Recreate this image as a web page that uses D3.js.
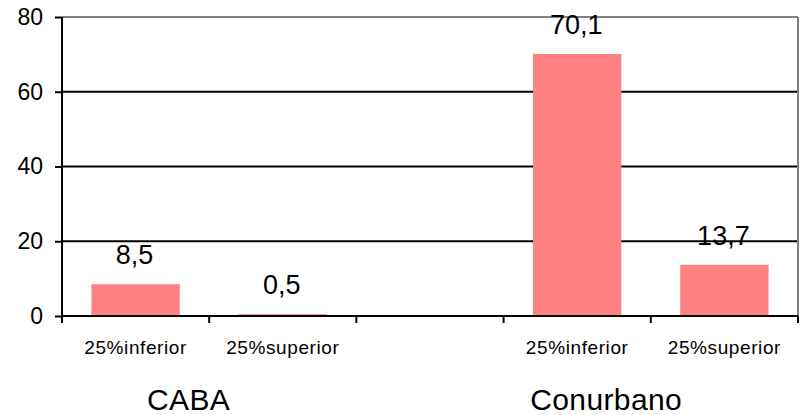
<!DOCTYPE html>
<html>
<head>
<meta charset="utf-8">
<script src="https://cdn.jsdelivr.net/npm/d3@7"></script>
<style>
  html, body { margin: 0; padding: 0; background: #fff; }
  svg { display: block; font-family: Arial, "Liberation Sans", sans-serif; }
</style>
</head>
<body>
<svg id="chart" width="800" height="415"></svg>
<script>
// ---- data ----
const slots = ["CABA|inf", "CABA|sup", "gap", "Conurbano|inf", "Conurbano|sup"];
const subLabels = ["25%inferior", "25%superior", "", "25%inferior", "25%superior"];
const values = [8.5, 0.5, null, 70.1, 13.7];
const valueLabels = ["8,5", "0,5", "", "70,1", "13,7"];
const groups = ["CABA", "Conurbano"];
const yTicks = [0, 20, 40, 60, 80];

// ---- layout ----
const svg = d3.select("#chart");
const pL = 62, pR = 798, pT = 17, pB = 316;

const x = d3.scaleBand().domain(slots).range([pL, pR])
  .paddingInner(0.4).paddingOuter(0.2);
const y = d3.scaleLinear().domain([0, 80]).range([pB, pT]);

// gridlines
svg.append("g").selectAll("line").data(yTicks.filter(t => t > 0))
  .join("line")
  .attr("x1", pL).attr("x2", pR)
  .attr("y1", d => y(d)).attr("y2", d => y(d))
  .attr("stroke", d => d === 80 ? "#808080" : "#000")
  .attr("stroke-width", 2);

// right border
svg.append("line")
  .attr("x1", pR).attr("x2", pR)
  .attr("y1", y(80)).attr("y2", y(0))
  .attr("stroke", "#808080").attr("stroke-width", 2);

// bars
const data = slots.map((s, i) => ({ s, v: values[i], lab: valueLabels[i], sub: subLabels[i] }));
svg.append("g").selectAll("rect").data(data.filter(d => d.v !== null))
  .join("rect")
  .attr("x", d => x(d.s))
  .attr("width", x.bandwidth())
  .attr("y", d => y(d.v))
  .attr("height", d => y(0) - y(d.v))
  .attr("fill", "#FF8080");

// value labels
svg.append("g").selectAll("text").data(data.filter(d => d.v !== null))
  .join("text")
  .attr("x", d => x(d.s) + x.bandwidth() / 2 - 1)
  .attr("y", d => y(d.v) - 20)
  .attr("text-anchor", "middle")
  .attr("font-size", 27)
  .attr("fill", "#000")
  .text(d => d.lab);

// y axis
const yAxis = d3.axisLeft(y).tickValues(yTicks).tickSize(7).tickPadding(12)
  .tickFormat(d3.format("d"));
const gy = svg.append("g").attr("transform", `translate(${pL},0)`).call(yAxis);
gy.select(".domain").attr("stroke", "#000").attr("stroke-width", 2)
  .attr("d", `M0,${pT}V${pB}`);
gy.selectAll(".tick line").attr("stroke", "#000").attr("stroke-width", 2);
gy.selectAll(".tick text").attr("font-size", 23).attr("fill", "#000")
  .attr("font-family", 'Arial, "Liberation Sans", sans-serif');

// x axis line
svg.append("line")
  .attr("x1", pL).attr("x2", pR)
  .attr("y1", pB).attr("y2", pB)
  .attr("stroke", "#000").attr("stroke-width", 2);

// x ticks at slot boundaries
const step = x.step();
const boundaries = d3.range(slots.length + 1).map(i => (i === 0 ? pL : (i === slots.length ? pR : x(slots[i]) - x.paddingInner() * step / 2)));
svg.append("g").selectAll("line").data(boundaries)
  .join("line")
  .attr("x1", d => d).attr("x2", d => d)
  .attr("y1", pB).attr("y2", pB + 7)
  .attr("stroke", "#000").attr("stroke-width", 2);

// sub-category labels
svg.append("g").selectAll("text").data(data.filter(d => d.sub))
  .join("text")
  .attr("x", d => x(d.s) + x.bandwidth() / 2)
  .attr("y", 354)
  .attr("text-anchor", "middle")
  .attr("font-size", 19)
  .attr("letter-spacing", 0.6)
  .attr("fill", "#000")
  .text(d => d.sub);

// group labels
const groupCenter = { "CABA": x("CABA|inf") + x.bandwidth() / 2 + 53, "Conurbano": x("Conurbano|inf") + x.bandwidth() / 2 + 29 };
svg.append("g").selectAll("text").data(groups)
  .join("text")
  .attr("x", d => groupCenter[d])
  .attr("y", 410)
  .attr("text-anchor", "middle")
  .attr("font-size", 30)
  .attr("letter-spacing", 0.4)
  .attr("fill", "#000")
  .text(d => d);
</script>
</body>
</html>
